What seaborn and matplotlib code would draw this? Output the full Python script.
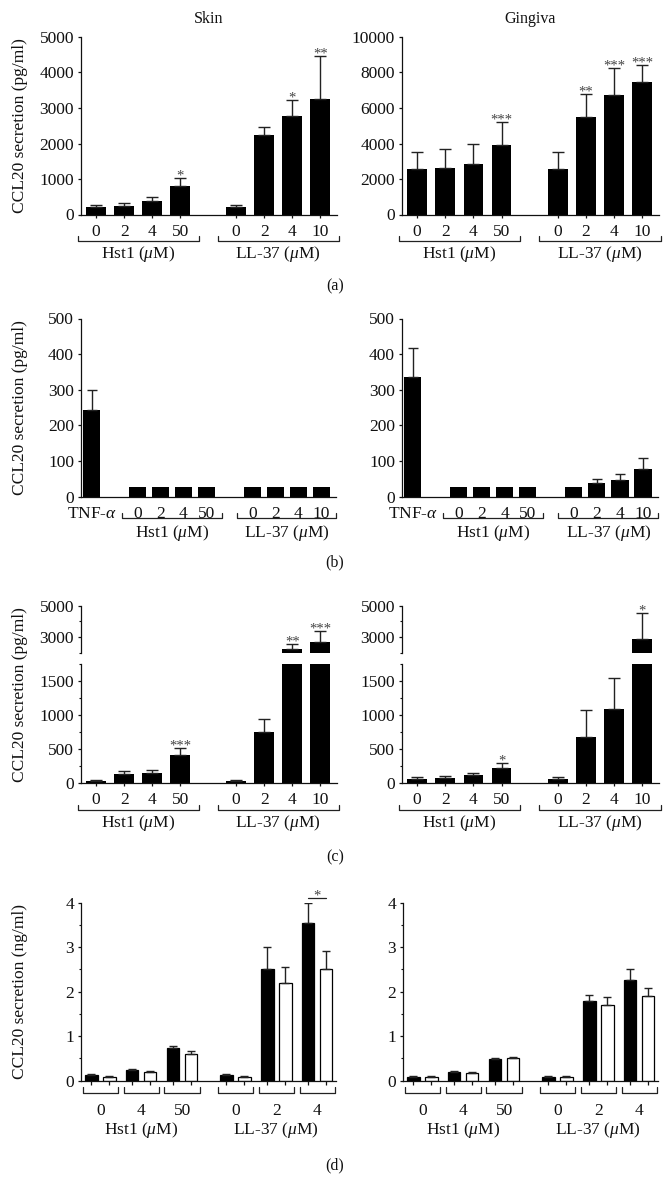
import numpy as np
import pandas as pd
import seaborn as sns
import matplotlib.pyplot as plt

# ---- values ----
hst1_doses = ["0", "2", "4", "50"]
ll37_doses = ["0", "2", "4", "10"]

# (a) CCL20 secretion (pg/ml)
a_skin_mean = [210, 230, 380, 800, 210, 2230, 2770, 3240]
a_skin_sd = [70, 80, 120, 230, 70, 230, 450, 1220]
a_skin_sig = ["", "", "", "*", "", "", "*", "**"]
a_ging_mean = [2580, 2640, 2860, 3930, 2580, 5510, 6750, 7480]
a_ging_sd = [930, 1060, 1100, 1270, 930, 1270, 1490, 930]
a_ging_sig = ["", "", "", "***", "", "**", "***", "***"]

# (b) CCL20 secretion (pg/ml), TNF-alpha control first
b_labels = ["TNF-$\\alpha$"] + hst1_doses + ll37_doses
b_skin_mean = [242, 26, 26, 26, 26, 26, 26, 26, 26]
b_skin_sd = [56, 0, 0, 0, 0, 0, 0, 0, 0]
b_ging_mean = [336, 26, 26, 26, 26, 26, 38, 47, 77]
b_ging_sd = [82, 0, 0, 0, 0, 0, 11, 18, 31]

# (c) CCL20 secretion (pg/ml), broken axis
c_skin_mean = [35, 134, 150, 413, 35, 756, 2200, 2660]
c_skin_sd = [10, 40, 44, 99, 10, 194, 335, 720]
c_skin_sig = ["", "", "", "***", "", "", "**", "***"]
c_ging_mean = [65, 75, 120, 219, 65, 672, 1095, 2850]
c_ging_sd = [20, 25, 30, 80, 20, 413, 457, 1660]
c_ging_sig = ["", "", "", "*", "", "", "", "*"]

# (d) CCL20 secretion (ng/ml), black vs white bars
d_doses = ["0", "4", "50", "0", "2", "4"]
d_skin_black = [0.127, 0.24, 0.73, 0.127, 2.51, 3.54]
d_skin_black_sd = [0.023, 0.02, 0.06, 0.023, 0.49, 0.45]
d_skin_white = [0.09, 0.19, 0.59, 0.09, 2.19, 2.50]
d_skin_white_sd = [0.02, 0.03, 0.07, 0.02, 0.36, 0.41]
d_ging_black = [0.09, 0.195, 0.49, 0.09, 1.78, 2.26]
d_ging_black_sd = [0.01, 0.025, 0.03, 0.01, 0.15, 0.26]
d_ging_white = [0.08, 0.18, 0.50, 0.08, 1.70, 1.91]
d_ging_white_sd = [0.02, 0.01, 0.03, 0.02, 0.17, 0.18]

# ---- style ----
sns.set_style("ticks")
plt.rcParams["font.family"] = ["Liberation Serif", "DejaVu Serif"]
plt.rcParams["mathtext.fontset"] = "custom"
plt.rcParams["mathtext.rm"] = "Liberation Serif"
plt.rcParams["mathtext.it"] = "Liberation Serif:italic"
plt.rcParams["font.size"] = 12.5
for k in ["text.color", "axes.labelcolor", "xtick.color", "ytick.color", "axes.edgecolor"]:
    plt.rcParams[k] = "#111111"
plt.rcParams["axes.linewidth"] = 0.9
plt.rcParams["xtick.major.width"] = 0.9
plt.rcParams["ytick.major.width"] = 0.9
plt.rcParams["ytick.minor.width"] = 0.8
plt.rcParams["ytick.major.size"] = 2.5
plt.rcParams["ytick.minor.size"] = 1.6
plt.rcParams["ytick.major.pad"] = 2.5

ERR = "#222222"
W, H = 670, 1196
fig = plt.figure(figsize=(W / 100, H / 100), dpi=100)


def add_ax(x0, x1, y0, y1):
    return fig.add_axes([x0 / W, 1 - y1 / H, (x1 - x0) / W, (y1 - y0) / H])


def centers(container):
    return [p.get_x() + p.get_width() / 2 for p in container]


def err_bars(ax, xs, tops, sd, cap):
    keep = [i for i, s in enumerate(sd) if s > 0]
    ax.errorbar([xs[i] for i in keep], [tops[i] for i in keep],
                yerr=[[0] * len(keep), [sd[i] for i in keep]], fmt="none",
                ecolor=ERR, elinewidth=1, capsize=cap, capthick=1, zorder=3)


def single_bars(ax, pos, mean, sd, width, cap):
    sns.barplot(x=pos, y=mean, native_scale=True, color="black", saturation=1,
                width=width, errorbar=None, linewidth=0, ax=ax)
    xs = centers(ax.containers[0])
    err_bars(ax, xs, list(mean), sd, cap)
    return xs


def stars(ax, x, y, s):
    ax.annotate(s, (x, y), xytext=(0, -1), textcoords="offset points", ha="center",
                va="baseline", fontsize=10.5, color="#444444", annotation_clip=False)


def bracket(ax, x0, x1, y_px, rise_px):
    h = ax.get_position().height * H
    tr = ax.get_xaxis_transform()
    yb, yt = -y_px / h, -(y_px - rise_px) / h
    ax.plot([x0, x0, x1, x1], [yt, yb, yb, yt], transform=tr, color=ERR, lw=0.9,
            clip_on=False)


def group_label(ax, x, y_px, text):
    h = ax.get_position().height * H
    ax.text(x, -y_px / h, text, transform=ax.get_xaxis_transform(), ha="center",
            va="center")


def ylab(ax, text, y=0.5):
    ax.set_ylabel(text)
    ax.yaxis.set_label_coords(-53 / (ax.get_position().width * W), y)


cols = [(81, 337), (402, 659)]
pos_a = np.r_[np.arange(4), np.arange(4) + 5].astype(float)

# ---- (a) ----
panel_a = [(a_skin_mean, a_skin_sd, a_skin_sig, 5000, 1000, "Skin"),
           (a_ging_mean, a_ging_sd, a_ging_sig, 10000, 2000, "Gingiva")]
for (x0, x1), (mean, sd, sig, ymax, step, title) in zip(cols, panel_a):
    ax = add_ax(x0, x1, 37, 214.5)
    xs = single_bars(ax, pos_a, mean, sd, 0.7, 4)
    ax.set_xlim(-0.54, 8.6)
    ax.set_ylim(0, ymax)
    ax.set_yticks(np.arange(0, ymax + 1, step))
    ax.set_xticks(pos_a, hst1_doses + ll37_doses)
    ax.tick_params(axis="x", length=2.2, pad=4.5)
    for x, m, s, g in zip(xs, mean, sd, sig):
        if g:
            stars(ax, x, m + s, g)
    bracket(ax, pos_a[0] - 0.66, pos_a[3] + 0.66, 26.5, 5)
    bracket(ax, pos_a[4] - 0.66, pos_a[7] + 0.66, 26.5, 5)
    group_label(ax, pos_a[:4].mean(), 40, "Hst1 ($\\mu$M)")
    group_label(ax, pos_a[4:].mean(), 40, "LL-37 ($\\mu$M)")
    ax.set_title(title, fontsize=11.5, pad=10)
    sns.despine(ax=ax)
    if x0 < 200:
        ylab(ax, "CCL20 secretion (pg/ml)")

# ---- (b) ----
pos_b = np.r_[0, np.arange(4) + 2, np.arange(4) + 7].astype(float)
for (x0, x1), (mean, sd) in zip(cols, [(b_skin_mean, b_skin_sd), (b_ging_mean, b_ging_sd)]):
    ax = add_ax(x0, x1 - 1, 318.5, 496.7)
    single_bars(ax, pos_b, mean, sd, 0.74, 3.5)
    ax.set_xlim(-0.46, 10.65)
    ax.set_ylim(0, 500)
    ax.set_yticks(np.arange(0, 501, 100))
    ax.set_xticks(pos_b, b_labels)
    ax.tick_params(axis="x", length=0, pad=7)
    bracket(ax, pos_b[1] - 0.67, pos_b[4] + 0.67, 21, 4.5)
    bracket(ax, pos_b[5] - 0.67, pos_b[8] + 0.67, 21, 4.5)
    group_label(ax, pos_b[1:5].mean(), 36.5, "Hst1 ($\\mu$M)")
    group_label(ax, pos_b[5:].mean(), 36.5, "LL-37 ($\\mu$M)")
    sns.despine(ax=ax)
    if x0 < 200:
        ylab(ax, "CCL20 secretion (pg/ml)")

# ---- (c) broken axis ----
panel_c = [(c_skin_mean, c_skin_sd, c_skin_sig), (c_ging_mean, c_ging_sd, c_ging_sig)]
for (x0, x1), (mean, sd, sig) in zip(cols, panel_c):
    top = add_ax(x0, x1, 605.5, 652.5)
    low = add_ax(x0, x1, 664.5, 783)
    for ax in (top, low):
        xs = single_bars(ax, pos_a, mean, sd, 0.7, 4)
        ax.set_xlim(-0.54, 8.6)
        sns.despine(ax=ax)
    top.set_ylim(2000, 5000)
    top.set_yticks([3000, 5000])
    top.set_yticks([2000, 4000], minor=True)
    top.spines["bottom"].set_visible(False)
    top.tick_params(axis="x", bottom=False, labelbottom=False)
    low.set_ylim(0, 1750)
    low.set_yticks([0, 500, 1000, 1500])
    low.set_yticks([250, 750, 1250, 1750], minor=True)
    low.set_xticks(pos_a, hst1_doses + ll37_doses)
    low.tick_params(axis="x", length=2.2, pad=4.5)
    for x, m, s, g in zip(xs, mean, sd, sig):
        if g:
            stars(top if m + s > 1750 else low, x, m + s, g)
    bracket(low, pos_a[0] - 0.66, pos_a[3] + 0.66, 26.5, 5)
    bracket(low, pos_a[4] - 0.66, pos_a[7] + 0.66, 26.5, 5)
    group_label(low, pos_a[:4].mean(), 40, "Hst1 ($\\mu$M)")
    group_label(low, pos_a[4:].mean(), 40, "LL-37 ($\\mu$M)")
    if x0 < 200:
        ylab(low, "CCL20 secretion (pg/ml)", 0.75)

# ---- (d) paired bars ----
pos_d = np.r_[np.arange(3), np.arange(3) + 3.3]
panel_d = [(d_skin_black, d_skin_black_sd, d_skin_white, d_skin_white_sd),
           (d_ging_black, d_ging_black_sd, d_ging_white, d_ging_white_sd)]
for (x0, x1), (blk, blk_sd, wht, wht_sd) in zip(cols, panel_d):
    ax = add_ax(x0 + 1 if x0 > 200 else x0, x1 - 1, 902.7, 1080.7)
    df = pd.DataFrame({"pos": np.r_[pos_d, pos_d], "val": blk + wht,
                       "fill": ["black"] * 6 + ["white"] * 6})
    sns.barplot(data=df, x="pos", y="val", hue="fill", hue_order=["black", "white"],
                palette={"black": "black", "white": "white"}, native_scale=True,
                width=0.88, gap=0.3, edgecolor="black", linewidth=0.9,
                errorbar=None, saturation=1, legend=False, ax=ax)
    ax.set(xlabel="", ylabel="")
    xb = centers(ax.containers[0])
    xw = centers(ax.containers[1])
    err_bars(ax, xb, blk, blk_sd, 3)
    err_bars(ax, xw, wht, wht_sd, 3)
    ax.set_xlim(-0.47, 5.76)
    ax.set_ylim(0, 4)
    ax.set_yticks(np.arange(0, 5))
    ax.set_yticks(np.arange(0.5, 4, 1), minor=True)
    ax.set_xticks(sorted(xb + xw), [""] * 12)
    ax.set_xticks(pos_d, d_doses, minor=True)
    ax.tick_params(axis="x", which="major", length=3)
    ax.tick_params(axis="x", which="minor", length=0, pad=16)
    for i in range(6):
        bracket(ax, pos_d[i] - 0.43, pos_d[i] + 0.43, 12, 5.5)
    group_label(ax, pos_d[1], 49, "Hst1 ($\\mu$M)")
    group_label(ax, pos_d[4], 49, "LL-37 ($\\mu$M)")
    sns.despine(ax=ax)
    if x0 < 200:
        ax.plot([xb[5], xw[5]], [4.11, 4.11], color=ERR, lw=0.9, clip_on=False)
        stars(ax, (xb[5] + xw[5]) / 2, 4.11, "*")
        ylab(ax, "CCL20 secretion (ng/ml)")

for letter, y in [("(a)", 286), ("(b)", 562), ("(c)", 857), ("(d)", 1165)]:
    fig.text(335 / W, 1 - y / H, letter, ha="center", va="center", fontsize=11.5)

plt.savefig("out.png", dpi=100)
